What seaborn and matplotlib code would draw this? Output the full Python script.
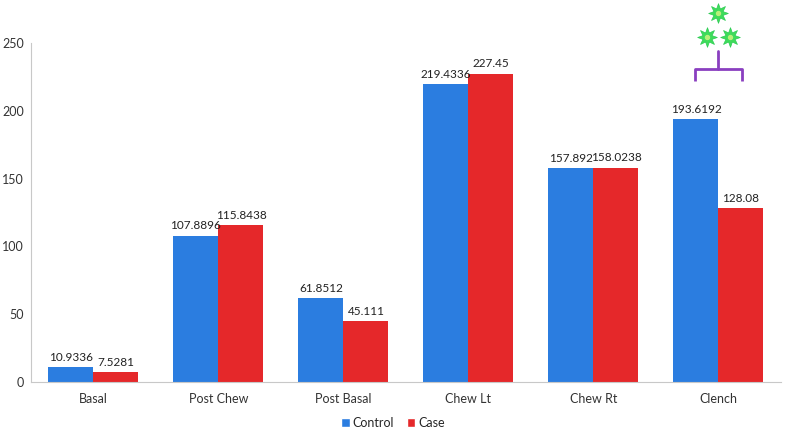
import pandas as pd
import matplotlib
matplotlib.use("Agg")
import matplotlib.pyplot as plt
import seaborn as sns
from matplotlib.patches import Patch

# data
categories = ["Basal", "Post Chew", "Post Basal", "Chew Lt", "Chew Rt", "Clench"]
control = [10.9336, 107.8896, 61.8512, 219.4336, 157.892, 193.6192]
case = [7.5281, 115.8438, 45.111, 227.45, 158.0238, 128.08]
control_labels = ["10.9336", "107.8896", "61.8512", "219.4336", "157.892", "193.6192"]
case_labels = ["7.5281", "115.8438", "45.111", "227.45", "158.0238", "128.08"]
y_ticks = [0, 50, 100, 150, 200, 250]

df = pd.DataFrame({
    "group": categories * 2,
    "value": control + case,
    "series": ["Control"] * len(categories) + ["Case"] * len(categories),
})

sns.set_style("white")
plt.rcParams["font.family"] = ["Lato", "DejaVu Sans"]

fig = plt.figure(figsize=(7.86, 4.38), dpi=100)
ax = fig.add_axes([0.0394, 0.128, 0.9542, 0.774])

palette = {"Control": "#2b7de0", "Case": "#e5282a"}
sns.barplot(data=df, x="group", y="value", hue="series", palette=palette,
            width=0.72, saturation=1, linewidth=0, ax=ax, legend=False)

# value labels
for cont, labels in zip(ax.containers, [control_labels, case_labels]):
    ax.bar_label(cont, labels=labels, padding=3, fontsize=8.5, color="#222222")

ax.set_ylim(0, 250)
ax.set_yticks(y_ticks)
ax.set_xlim(-0.5, len(categories) - 0.5)
ax.set_xlabel("")
ax.set_ylabel("")
ax.tick_params(axis="both", labelsize=9, colors="#333333", length=0)
ax.tick_params(axis="y", pad=5)
ax.tick_params(axis="x", pad=8)
for s in ["top", "right"]:
    ax.spines[s].set_visible(False)
ax.spines["left"].set_color("#c8c8c8")
ax.spines["bottom"].set_color("#c8c8c8")

# significance bracket over Clench
cx = 5
bc = "#8a3fc0"
ax.plot([cx - 0.19, cx - 0.19, cx + 0.19, cx + 0.19], [222, 231, 231, 222],
        color=bc, lw=2, clip_on=False, solid_capstyle="butt")
ax.plot([cx, cx], [231, 244], color=bc, lw=2, clip_on=False)
star = (8, 1, 0)
ax.scatter([cx, cx - 0.09, cx + 0.09], [272, 254, 254], marker=star, s=200,
           color="#3fdc5a", edgecolors="#2ecc55", linewidths=0.5,
           clip_on=False, zorder=5)
ax.scatter([cx, cx - 0.09, cx + 0.09], [272, 254, 254], marker="o", s=8,
           color="#b8f07a", clip_on=False, zorder=6)

# legend
handles = [Patch(facecolor=palette["Control"], label="Control"),
           Patch(facecolor=palette["Case"], label="Case")]
fig.legend(handles=handles, loc="lower center", bbox_to_anchor=(0.5, -0.005),
           ncol=2, frameon=False, fontsize=9, handlelength=0.7,
           handleheight=0.7, handletextpad=0.2, columnspacing=1.0)

fig.savefig("out.png", dpi=100)
